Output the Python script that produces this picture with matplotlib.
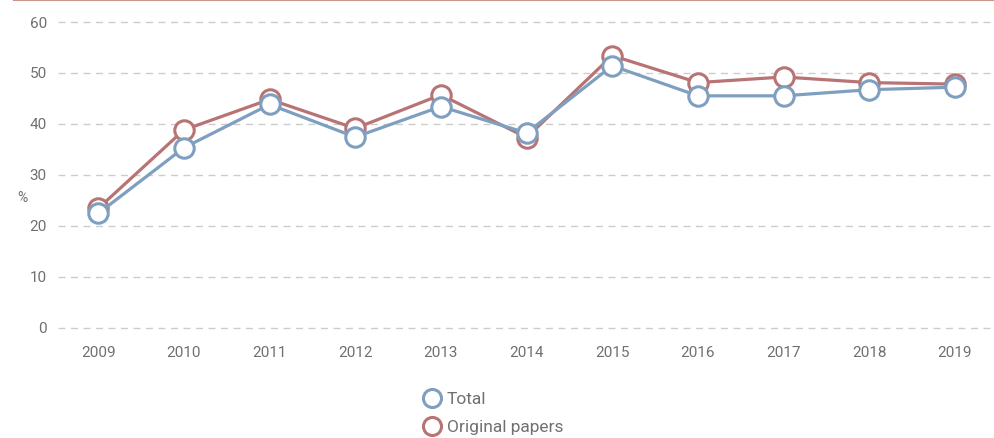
import matplotlib.pyplot as plt
from matplotlib.lines import Line2D

# data
years = [2009, 2010, 2011, 2012, 2013, 2014, 2015, 2016, 2017, 2018, 2019]
total = [22.4, 35.3, 43.8, 37.4, 43.4, 38.2, 51.4, 45.5, 45.5, 46.7, 47.2]
original = [23.4, 38.8, 44.8, 39.1, 45.7, 37.3, 53.4, 48.1, 49.2, 48.1, 47.8]

blue = '#7f9fc0'
red = '#b87474'
grey = '#707070'

plt.rcParams['font.family'] = ['Roboto', 'DejaVu Sans']

fig = plt.figure(figsize=(9.94, 4.38), dpi=100)
ax = fig.add_axes([58/994, 1-327.5/438, (990-58)/994, (327.5-22)/438])

ax.plot(years, original, color=red, lw=2.3, marker='o', ms=14, mfc='white',
        mec=red, mew=2.2, clip_on=False, zorder=3)
ax.plot(years, total, color=blue, lw=2.3, marker='o', ms=14, mfc='white',
        mec=blue, mew=2.2, clip_on=False, zorder=4)

ax.set_xlim(2008.53, 2019.41)
ax.set_ylim(0, 60)
ax.set_xticks(years)
ax.set_yticks(range(0, 61, 10))
ax.grid(axis='y', color='#cccccc', linestyle=(0, (5, 4)), lw=1)
for gl in ax.get_ygridlines():
    gl.set_clip_on(False)
ax.set_axisbelow(True)
for s in ax.spines.values():
    s.set_visible(False)
ax.tick_params(length=0, colors=grey, labelsize=11)
ax.tick_params(axis='x', pad=13)
ax.tick_params(axis='y', pad=8)
fig.text(22/994, 1-198/438, '%', color=grey, fontsize=10, ha='center', va='center')

# thin rule along the top edge
fig.add_artist(Line2D([14/994, 1], [0.999, 0.999], color='#c9968a', lw=1.5))

handles = [Line2D([], [], ls='none', marker='o', ms=13, mfc='white', mec=blue, mew=2.2),
           Line2D([], [], ls='none', marker='o', ms=13, mfc='white', mec=red, mew=2.2)]
fig.legend(handles, ['Total', 'Original papers'], loc='upper left',
           bbox_to_anchor=(404/994, 1-376/438), frameon=False, fontsize=12.5,
           labelcolor=grey, handletextpad=0.15, labelspacing=0.75, handlelength=1.4)

fig.savefig('out.png', dpi=100)
